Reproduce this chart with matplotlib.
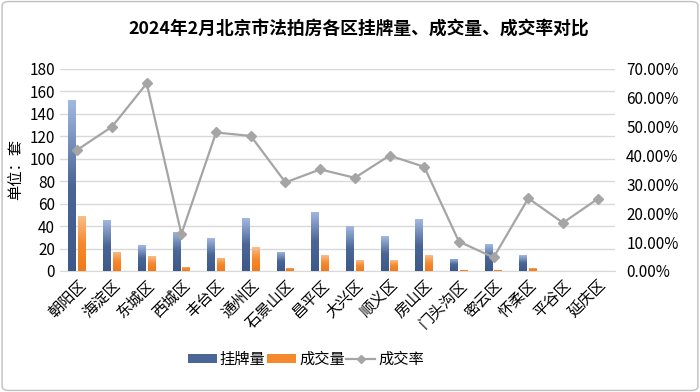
import matplotlib
matplotlib.use("Agg")
import matplotlib.pyplot as plt
import numpy as np
from matplotlib.colors import LinearSegmentedColormap
from matplotlib.patches import FancyBboxPatch, Patch
from matplotlib.lines import Line2D
from matplotlib.ticker import PercentFormatter

plt.rcParams['font.family'] = ['Noto Sans CJK SC', 'DejaVu Sans']

districts = ['朝阳区', '海淀区', '东城区', '西城区', '丰台区', '通州区', '石景山区', '昌平区',
             '大兴区', '顺义区', '房山区', '门头沟区', '密云区', '怀柔区', '平谷区', '延庆区']
listings = [152, 45, 23, 35, 29, 47, 17, 53, 40, 31, 46, 11, 24, 14, 0, 0]
deals = [49, 17, 13, 4, 12, 21, 3, 14, 9.5, 9.5, 14, 1, 1, 3, 0, 0]
rate = [0.42, 0.50, 0.65, 0.128, 0.48, 0.468, 0.307, 0.352, 0.323, 0.40, 0.361, 0.102, 0.047, 0.252, 0.167, 0.25]

title = '2024年2月北京市法拍房各区挂牌量、成交量、成交率对比'
left_ticks = list(range(0, 181, 20))
right_ticks = [0, 0.1, 0.2, 0.3, 0.4, 0.5, 0.6, 0.7]

fig = plt.figure(figsize=(7, 3.92), dpi=100)
ax = fig.add_axes([0.0857, 0.3087, 0.7929, 0.5153])

x = np.arange(len(districts))
w = 0.23
blue_cmap = LinearSegmentedColormap.from_list('b', ['#3D5889', '#4A6697', '#A3B9E0'])
orange_cmap = LinearSegmentedColormap.from_list('o', ['#F07A1A', '#F5892E', '#F8BE8C'])

def grad_bars(xs, hs, cmap):
    bars = ax.bar(xs, hs, width=w, color='none', edgecolor='none', zorder=3)
    grad = np.linspace(0, 1, 256).reshape(-1, 1)
    for r in bars:
        h = r.get_height()
        if h <= 0:
            continue
        x0 = r.get_x()
        im = ax.imshow(grad, cmap=cmap, origin='lower', aspect='auto',
                       extent=[x0, x0 + r.get_width(), 0, h], zorder=3)
        im.set_clip_path(r)
    return bars

grad_bars(x - 0.14, listings, blue_cmap)
grad_bars(x + 0.14, deals, orange_cmap)

ax.set_xlim(-0.5, len(districts) - 0.5)
ax.set_ylim(0, 180)
ax.set_yticks(left_ticks)
ax.grid(axis='y', color='#D9D9D9', linewidth=1, zorder=0)
ax.set_axisbelow(True)
for s in ['top', 'right', 'left']:
    ax.spines[s].set_visible(False)
ax.spines['bottom'].set_color('#D9D9D9')
ax.tick_params(axis='both', length=0, labelsize=11, colors='black')
ax.set_xticks(x)
ax.set_xticklabels(districts, rotation=45, ha='right', rotation_mode='anchor', fontsize=11)
ax.tick_params(axis='x', pad=4)
ax.set_ylabel('单位：套', fontsize=11, labelpad=4)

ax2 = ax.twinx()
ax2.plot(x, rate, color='#A5A5A5', linewidth=1.6, marker='D', markersize=5.5,
         markerfacecolor='#A5A5A5', markeredgecolor='#A5A5A5', zorder=4)
ax2.set_ylim(0, 0.7)
ax2.set_yticks(right_ticks)
ax2.yaxis.set_major_formatter(PercentFormatter(1.0, decimals=2))
for s in ['top', 'right', 'left', 'bottom']:
    ax2.spines[s].set_visible(False)
ax2.tick_params(axis='y', length=0, labelsize=11, pad=8)

fig.text(0.512, 0.925, title, ha='center', va='center', fontsize=12.8, fontweight='heavy')

handles = [Patch(facecolor='#4A6697', edgecolor='none'),
           Patch(facecolor='#F5892E', edgecolor='none'),
           Line2D([0], [0], color='#A5A5A5', lw=1.6, marker='D', markersize=4)]
fig.legend(handles, ['挂牌量', '成交量', '成交率'], loc='center', bbox_to_anchor=(0.437, 0.084),
           ncol=3, frameon=False, fontsize=11, handlelength=1.9, handleheight=0.5,
           columnspacing=0.1, handletextpad=0.2, borderpad=0)

border = FancyBboxPatch((0.003, 0.004), 0.994, 0.992, boxstyle='round,pad=0,rounding_size=0.01',
                        transform=fig.transFigure, facecolor='none', edgecolor='#BFBFBF', linewidth=1)
fig.patches.append(border)

fig.savefig('out.png', dpi=100)
